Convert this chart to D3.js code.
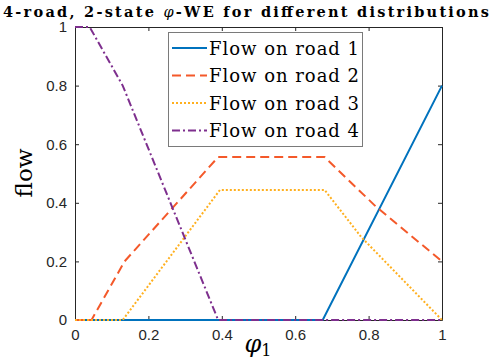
<!DOCTYPE html>
<html>
<head>
<meta charset="utf-8">
<script src="https://cdn.jsdelivr.net/npm/d3@7"></script>
<style>
  body { margin: 0; background: #fff; }
  svg { display: block; }
</style>
</head>
<body>
<div id="chart"></div>
<script>
// values
var road1X = [0, 0.675, 1];
var road1Y = [0, 0, 0.8];
var road2X = [0, 0.045, 0.135, 0.39, 0.68, 0.82, 1];
var road2Y = [0, 0, 0.2, 0.556, 0.556, 0.387, 0.2];
var road3X = [0, 0.13, 0.395, 0.68, 0.78, 1];
var road3Y = [0, 0, 0.444, 0.444, 0.283, 0];
var road4X = [0, 0.04, 0.13, 0.39, 1];
var road4Y = [1, 1, 0.8, 0, 0];
var seriesNames = ["Flow on road 1", "Flow on road 2", "Flow on road 3", "Flow on road 4"];
var xTicks = [0, 0.2, 0.4, 0.6, 0.8, 1];
var yTicks = [0, 0.2, 0.4, 0.6, 0.8, 1];

function init() {
    var w = 498, h = 360;
    var left = 75, right = 442, top = 27, bottom = 320;
    var serif = "DejaVu Serif, Liberation Serif, serif";

    var colors = ["#0072BD", "#F4592A", "#FFB01F", "#7E2F8E"];
    var dashes = [null, "9,5", "2,2", "8,3,2,3"];
    var xs = [road1X, road2X, road3X, road4X];
    var ys = [road1Y, road2Y, road3Y, road4Y];

    var x = d3.scaleLinear().domain([0, 1]).range([left, right]);
    var y = d3.scaleLinear().domain([0, 1]).range([bottom, top]);

    var svg = d3.select("#chart").append("svg")
        .attr("width", w).attr("height", h);

    // title
    var title = svg.append("text")
        .attr("x", 3).attr("y", 16.5)
        .attr("textLength", 486)
        .attr("font-family", serif)
        .attr("font-weight", "bold")
        .attr("font-size", "14.5px")
        .attr("fill", "#000");
    title.append("tspan").text("4-road, 2-state ");
    title.append("tspan").attr("font-style", "italic").attr("font-weight", "normal").text("φ");
    title.append("tspan").text("-WE for different distributions");

    var data = xs.map(function(xa, k) {
        return xa.map(function(v, i) { return [v, ys[k][i]]; });
    });

    var line = d3.line()
        .x(function(d) { return x(d[0]); })
        .y(function(d) { return y(d[1]); });

    // axes with inward ticks
    var tickColor = "#262626";
    svg.append("g").attr("transform", "translate(0," + bottom + ")")
        .call(d3.axisBottom(x).tickValues(xTicks).tickSizeInner(-4).tickSizeOuter(0)
            .tickFormat(d3.format("")).tickPadding(9));
    svg.append("g").attr("transform", "translate(0," + top + ")")
        .call(d3.axisTop(x).tickValues(xTicks).tickSizeInner(-4).tickSizeOuter(0).tickFormat(""));
    svg.append("g").attr("transform", "translate(" + left + ",0)")
        .call(d3.axisLeft(y).tickValues(yTicks).tickSizeInner(-4).tickSizeOuter(0)
            .tickFormat(d3.format("")).tickPadding(8));
    svg.append("g").attr("transform", "translate(" + right + ",0)")
        .call(d3.axisRight(y).tickValues(yTicks).tickSizeInner(-4).tickSizeOuter(0).tickFormat(""));

    svg.selectAll(".domain").attr("stroke", tickColor);
    svg.selectAll(".tick line").attr("stroke", tickColor);
    svg.selectAll(".tick text")
        .attr("fill", "#262626")
        .style("font-family", "'Liberation Sans', Arial, sans-serif")
        .style("font-size", "15px");

    // lines
    svg.selectAll("path.series")
        .data(data)
        .enter()
        .append("path")
        .attr("class", "series")
        .attr("d", line)
        .attr("fill", "none")
        .attr("stroke", function(d, i) { return colors[i]; })
        .attr("stroke-width", 2)
        .attr("stroke-dasharray", function(d, i) { return dashes[i]; });

    // axis labels
    svg.append("text")
        .attr("transform", "translate(32,173) rotate(-90)")
        .attr("text-anchor", "middle")
        .attr("font-family", serif)
        .attr("font-size", "23px")
        .text("flow");

    var xl = svg.append("text")
        .attr("x", 258).attr("y", 352)
        .attr("text-anchor", "middle")
        .attr("font-family", serif)
        .attr("font-size", "24px");
    xl.append("tspan").attr("font-style", "italic").text("φ");
    xl.append("tspan").attr("dy", 4).attr("font-size", "16px").text("1");

    // legend
    var lg = svg.append("g");
    lg.append("rect")
        .attr("x", 168.5).attr("y", 32.5)
        .attr("width", 194).attr("height", 114)
        .attr("fill", "#fff").attr("stroke", "#7a7a7a").attr("stroke-width", 1);
    var rowY = [48, 75.5, 103, 130.5];
    seriesNames.forEach(function(name, i) {
        lg.append("line")
            .attr("x1", 172).attr("x2", 207)
            .attr("y1", rowY[i]).attr("y2", rowY[i])
            .attr("stroke", colors[i]).attr("stroke-width", 2)
            .attr("stroke-dasharray", dashes[i]);
        lg.append("text")
            .attr("x", 209).attr("y", rowY[i] + 6.5)
            .attr("textLength", 150)
            .attr("font-family", serif)
            .attr("font-size", "18px")
            .text(name);
    });
}

window.onload = init;
</script>
</body>
</html>
